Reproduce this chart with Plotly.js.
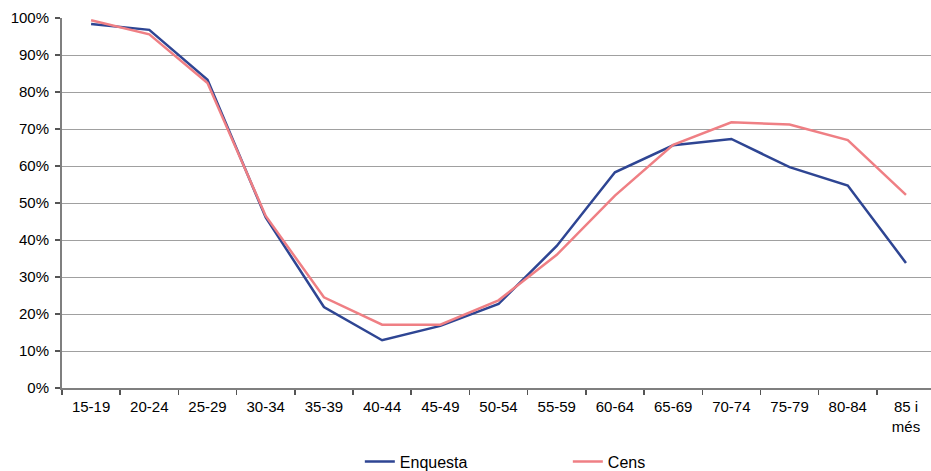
<!DOCTYPE html>
<html>
<head>
<meta charset="utf-8">
<script src="https://cdn.plot.ly/plotly-3.0.1.min.js"></script>
<style>html,body{margin:0;padding:0;overflow:hidden;background:#fff;}#chart{width:931px;height:471px;}</style>
</head>
<body>
<div id="chart"></div>
<script>
const categories = ["15-19","20-24","25-29","30-34","35-39","40-44","45-49","50-54","55-59","60-64","65-69","70-74","75-79","80-84","85 i<br>més"];
const enquesta = [98.4, 96.8, 83.3, 46.1, 21.9, 12.9, 16.8, 22.7, 38.4, 58.3, 65.6, 67.3, 59.7, 54.7, 33.8];
const cens = [99.4, 95.6, 82.4, 46.5, 24.5, 17.1, 17.1, 23.7, 36.0, 52.0, 65.7, 71.8, 71.2, 67.0, 52.2];
const yTicks = [0,10,20,30,40,50,60,70,80,90,100];

const font = {family: "Liberation Sans, Arial, sans-serif", size: 15, color: "#000"};
const traces = [
  {x: categories, y: enquesta, name: "Enquesta", type: "scatter", mode: "lines",
   line: {color: "#2E4593", width: 2.5}},
  {x: categories, y: cens, name: "Cens", type: "scatter", mode: "lines",
   line: {color: "#EF7F84", width: 2.5}}
];
const layout = {
  width: 931, height: 471,
  margin: {l: 62, r: 0, t: 18, b: 83},
  paper_bgcolor: "#fff", plot_bgcolor: "#fff",
  font: font,
  showlegend: true,
  legend: {orientation: "h", xref: "container", yref: "container", x: 0.3865, y: 0.02,
           xanchor: "left", yanchor: "middle", font: {family: font.family, size: 16, color: "#000"},
           entrywidth: 163, entrywidthmode: "pixels", traceorder: "normal"},
  xaxis: {type: "category", range: [-0.5, 14.43], tickson: "boundaries", ticks: "outside",
          ticklen: 5, tickwidth: 1.5, tickcolor: "#555", showline: true, linecolor: "#7f7f7f", linewidth: 2,
          showgrid: false, tickfont: font, ticklabelstandoff: 4, fixedrange: true},
  yaxis: {range: [0, 100], tickvals: yTicks, ticktext: yTicks.map(v => v + "%"), ticks: "outside",
          ticklen: 5, tickwidth: 1.5, tickcolor: "#555", showline: true, linecolor: "#7f7f7f", linewidth: 2,
          showgrid: true, gridcolor: "#a0a0a0", gridwidth: 1, zeroline: false, tickfont: font,
          ticklabelstandoff: 3, fixedrange: true}
};
Plotly.newPlot("chart", traces, layout, {displayModeBar: false, staticPlot: true});
</script>
</body>
</html>
